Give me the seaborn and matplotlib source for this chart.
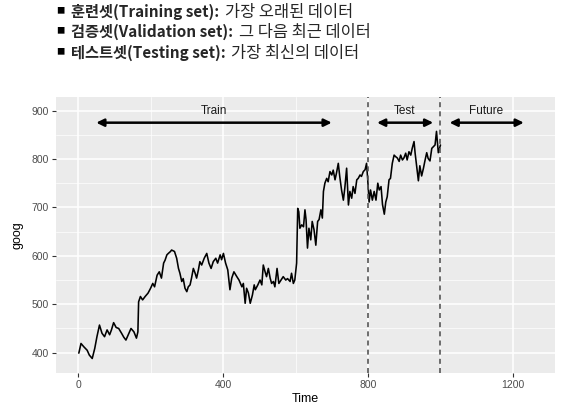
import seaborn as sns
import matplotlib.pyplot as plt
import pandas as pd
import numpy as np

# --- Data ---
time = [2, 8, 16, 25, 31, 39, 46, 52, 59, 66, 73, 80, 87, 92, 98, 105, 112, 120, 126, 132,
        140, 146, 154, 161, 165, 167, 172, 178, 185, 193, 200, 206, 211, 218, 224, 230, 236,
        240, 245, 249, 255, 258, 266, 272, 277, 281, 286, 290, 295, 300, 304, 309, 313, 318,
        323, 327, 332, 336, 341, 348, 355, 361, 367, 373, 380, 385, 392, 396, 401, 407, 413,
        419, 424, 430, 438, 444, 452, 456, 461, 465, 470, 475, 481, 486, 489, 496, 502, 507,
        511, 516, 520, 525, 530, 534, 539, 543, 549, 554, 560, 566, 573, 578, 585, 589, 594,
        598, 603, 606, 609, 612, 617, 622, 626, 629, 633, 637, 642, 646, 651, 656, 661, 665,
        670, 674, 677, 681, 686, 690, 695, 700, 704, 709, 713, 718, 722, 727, 732, 736, 741,
        746, 750, 755, 759, 764, 769, 773, 778, 782, 787, 792, 796, 799, 803, 807, 812, 817,
        822, 827, 831, 836, 840, 845, 849, 853, 858, 862, 867, 872, 876, 881, 886, 890, 895,
        899, 904, 908, 913, 918, 922, 927, 930, 934, 939, 943, 948, 953, 957, 962, 966, 971,
        976, 980, 985, 989, 994, 1000]
goog = [399, 419, 412, 405, 395, 388, 409, 433, 457, 440, 433, 447, 437, 447, 462, 452, 450,
        440, 432, 426, 440, 450, 443, 430, 443, 505, 516, 509, 516, 523, 533, 543, 536, 560,
        567, 554, 585, 591, 602, 605, 609, 612, 609, 595, 574, 564, 547, 553, 533, 526, 536,
        540, 554, 574, 564, 554, 571, 588, 581, 595, 605, 585, 574, 588, 595, 585, 602, 592,
        605, 585, 571, 530, 554, 567, 557, 550, 536, 543, 502, 533, 523, 502, 519, 540, 530,
        540, 550, 540, 581, 567, 557, 574, 554, 543, 547, 536, 574, 543, 550, 557, 550, 553,
        547, 564, 543, 550, 585, 698, 691, 657, 664, 660, 695, 675, 616, 657, 633, 671, 654,
        622, 671, 675, 695, 678, 733, 750, 760, 753, 774, 767, 777, 757, 771, 791, 764, 736,
        715, 740, 781, 705, 733, 719, 743, 729, 757, 760, 767, 764, 774, 778, 791, 760, 711,
        736, 715, 733, 715, 750, 736, 743, 706, 686, 711, 722, 757, 760, 791, 808, 805, 802,
        795, 808, 798, 802, 812, 798, 815, 808, 822, 836, 812, 786, 755, 786, 765, 781, 796,
        813, 801, 796, 822, 825, 829, 857, 813, 829]

splits = [800, 1000]
spans = [("Train", 50, 700), ("Test", 825, 980), ("Future", 1025, 1230)]
label_x = [375, 900, 1125]

df = pd.DataFrame({"Time": time, "goog": goog})

# --- Styling (ggplot-like grey panel) ---
sns.set_style("darkgrid", {"axes.facecolor": "#EBEBEB", "grid.color": "white"})
plt.rcParams["font.family"] = ["Liberation Sans", "DejaVu Sans"]

fig = plt.figure(figsize=(5.65, 4.09), dpi=100)
ax = fig.add_axes([0.0991, 0.088, 0.8832, 0.6748])

sns.lineplot(data=df, x="Time", y="goog", color="black", linewidth=1.15, ax=ax)

for s in splits:
    ax.axvline(s, color="#555555", linestyle=(0, (3, 2.5)), linewidth=1.2)

for (name, x0, x1), lx in zip(spans, label_x):
    ax.annotate("", xy=(x0, 875), xytext=(x1, 875),
                arrowprops=dict(arrowstyle="<|-|>,head_length=0.45,head_width=0.22",
                                color="black", lw=1.8, shrinkA=0, shrinkB=0))
    ax.text(lx, 900, name, ha="center", va="center", fontsize=8.5, color="#1a1a1a")

ax.set_xlim(-61, 1316)
ax.set_ylim(358, 928)
ax.set_xticks([0, 400, 800, 1200])
ax.set_yticks([400, 500, 600, 700, 800, 900])
ax.set_xticks([200, 600, 1000], minor=True)
ax.set_yticks([450, 550, 650, 750, 850], minor=True)
ax.grid(which="major", color="white", linewidth=1.1)
ax.grid(which="minor", color="white", linewidth=0.5)
for sp in ax.spines.values():
    sp.set_visible(False)
ax.tick_params(axis="both", which="major", length=3, width=0.8, color="#333333",
               labelsize=7.5, labelcolor="#4D4D4D", pad=2, bottom=True, left=True)
ax.tick_params(axis="both", which="minor", length=0)
ax.set_xlabel("Time", fontsize=9, color="black", labelpad=2)
ax.set_ylabel("goog", fontsize=9, color="black", labelpad=6)

# --- Bullet text above the chart ---
lines = [("훈련셋(Training set): ", "가장 오래된 데이터"),
         ("검증셋(Validation set): ", "그 다음 최근 데이터"),
         ("테스트셋(Testing set): ", "가장 최신의 데이터")]
kr = ["Noto Sans CJK KR", "DejaVu Sans"]
baselines = [17, 37, 58]
fig.canvas.draw()
r = fig.canvas.get_renderer()
W, H = fig.bbox.width, fig.bbox.height
for (bold, rest), yb in zip(lines, baselines):
    y = 1 - yb / H
    fig.text(56 / W, y + 4 / H, "■", family=kr, fontsize=6, va="baseline", color="black")
    t1 = fig.text(71 / W, y, bold, family=kr, fontsize=11, weight="bold", va="baseline")
    bb = t1.get_window_extent(r)
    fig.text((bb.x1 + 2) / W, y, rest, family=kr, fontsize=11.8, va="baseline")

fig.savefig("out.png", dpi=100)
plt.close(fig)
